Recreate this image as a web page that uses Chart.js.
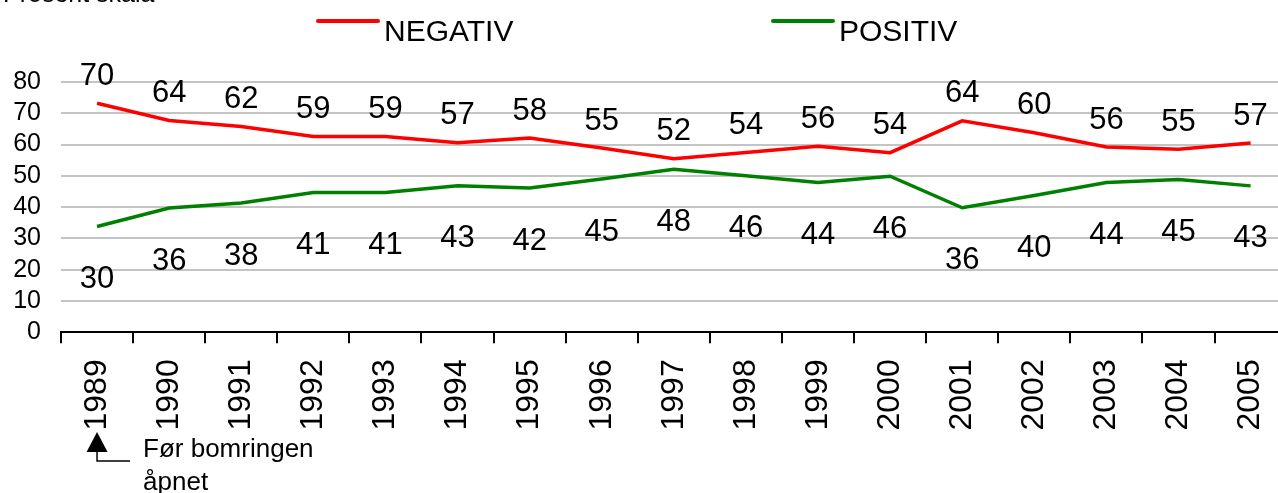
<!DOCTYPE html>
<html>
<head>
<meta charset="utf-8">
<script src="https://cdn.jsdelivr.net/npm/chart.js@4/dist/chart.umd.min.js"></script>
<style>
  html, body { margin: 0; padding: 0; background: #fff; overflow: hidden; }
  #wrap { width: 1278px; height: 493px; overflow: hidden; }
</style>
</head>
<body>
<div id="wrap"><canvas id="myChart" width="1305" height="493"></canvas></div>
<script>
const years = ["1989", "1990", "1991", "1992", "1993", "1994", "1995", "1996", "1997",
    "1998", "1999", "2000", "2001", "2002", "2003", "2004", "2005"];

// printed values
const negativLabels = [70, 64, 62, 59, 59, 57, 58, 55, 52, 54, 56, 54, 64, 60, 56, 55, 57];
const positivLabels = [30, 36, 38, 41, 41, 43, 42, 45, 48, 46, 44, 46, 36, 40, 44, 45, 43];

// where the lines are actually drawn
const negativLine = [73.2, 67.7, 65.8, 62.6, 62.6, 60.6, 62.1, 58.9, 55.5, 57.5, 59.5, 57.4, 67.6, 63.8, 59.2, 58.5, 60.5];
const positivLine = [33.8, 39.7, 41.3, 44.7, 44.7, 46.8, 46.1, 49.0, 52.1, 50.0, 47.9, 49.9, 39.8, 43.7, 47.9, 48.8, 46.8];

const yTicks = [0, 10, 20, 30, 40, 50, 60, 70, 80];

const FONT = "'Liberation Sans', Arial, sans-serif";

const valueLabels = {
    id: "valueLabels",
    afterDatasetsDraw(chart) {
        const ctx = chart.ctx;
        ctx.save();
        ctx.font = "31px " + FONT;
        ctx.fillStyle = "#000";
        ctx.textAlign = "center";
        ctx.textBaseline = "middle";
        chart.data.datasets.forEach((ds, i) => {
            const meta = chart.getDatasetMeta(i);
            meta.data.forEach((pt, j) => {
                ctx.fillText(String(ds.printed[j]), pt.x, pt.y + ds.labelOffset);
            });
        });
        ctx.restore();
    }
};

const legendAndNotes = {
    id: "legendAndNotes",
    afterDraw(chart) {
        const ctx = chart.ctx;
        ctx.save();
        // legend: line sits level with the top of the text
        const items = [
            { x: 318, ds: chart.data.datasets[0] },
            { x: 773, ds: chart.data.datasets[1] }
        ];
        items.forEach(it => {
            ctx.strokeStyle = it.ds.borderColor;
            ctx.lineWidth = 4;
            ctx.lineCap = "round";
            ctx.beginPath();
            ctx.moveTo(it.x, 21);
            ctx.lineTo(it.x + 60, 21);
            ctx.stroke();
            ctx.fillStyle = "#000";
            ctx.font = "30px " + FONT;
            ctx.textAlign = "left";
            ctx.textBaseline = "middle";
            ctx.fillText(it.ds.label, it.x + 66, 33);
        });

        // cut-off caption in the corner
        ctx.fillStyle = "#000";
        ctx.font = "25px " + FONT;
        ctx.textAlign = "left";
        ctx.textBaseline = "alphabetic";
        ctx.fillText("Prosent skala", 3, 2);

        // arrow note under 1989
        const ax = chart.scales.x.getPixelForValue(0);
        ctx.beginPath();
        ctx.moveTo(ax - 10.5, 452);
        ctx.lineTo(ax + 10.5, 452);
        ctx.lineTo(ax, 432);
        ctx.closePath();
        ctx.fill();
        ctx.strokeStyle = "#000";
        ctx.lineWidth = 1.5;
        ctx.lineCap = "butt";
        ctx.beginPath();
        ctx.moveTo(ax, 452);
        ctx.lineTo(ax, 461);
        ctx.lineTo(ax + 33, 461);
        ctx.stroke();
        ctx.font = "26px " + FONT;
        ctx.textBaseline = "middle";
        ctx.fillText("Før bomringen", ax + 46, 450);
        ctx.fillText("åpnet", ax + 46, 483);
        ctx.restore();
    }
};

new Chart(document.getElementById("myChart").getContext("2d"), {
    type: "line",
    data: {
        labels: years,
        datasets: [
            {
                label: "NEGATIV",
                data: negativLine,
                printed: negativLabels,
                labelOffset: -27,
                borderColor: "#ff0000",
                borderWidth: 3.5,
                pointRadius: 0,
                tension: 0,
                fill: false
            },
            {
                label: "POSITIV",
                data: positivLine,
                printed: positivLabels,
                labelOffset: 53,
                borderColor: "#008000",
                borderWidth: 3.5,
                pointRadius: 0,
                tension: 0,
                fill: false
            }
        ]
    },
    options: {
        responsive: false,
        animation: false,
        layout: { padding: { top: 82, left: 0, right: 0, bottom: 0 } },
        scales: {
            x: {
                offset: true,
                grid: {
                    offset: true,
                    drawOnChartArea: false,
                    drawTicks: true,
                    tickLength: 11,
                    tickColor: "#000",
                    lineWidth: 2
                },
                border: { display: true, color: "#000", width: 2 },
                ticks: {
                    color: "#000",
                    font: { family: FONT, size: 32 },
                    minRotation: 90,
                    maxRotation: 90,
                    autoSkip: false,
                    padding: 16
                },
                afterFit: (scale) => { scale.height = 160.7; }
            },
            y: {
                min: 0,
                max: 80,
                afterBuildTicks: (scale) => { scale.ticks = yTicks.map(v => ({ value: v })); },
                grid: {
                    color: (c) => c.tick && c.tick.value === 0 ? "rgba(0,0,0,0)" : "#c4c4c4",
                    lineWidth: 2,
                    drawTicks: false
                },
                border: { display: false },
                ticks: {
                    color: "#000",
                    font: { family: FONT, size: 25 },
                    padding: 20,
                    autoSkip: false
                },
                afterFit: (scale) => { scale.width = 61; }
            }
        },
        plugins: {
            legend: { display: false },
            tooltip: { enabled: false }
        }
    },
    plugins: [valueLabels, legendAndNotes]
});
</script>
</body>
</html>
